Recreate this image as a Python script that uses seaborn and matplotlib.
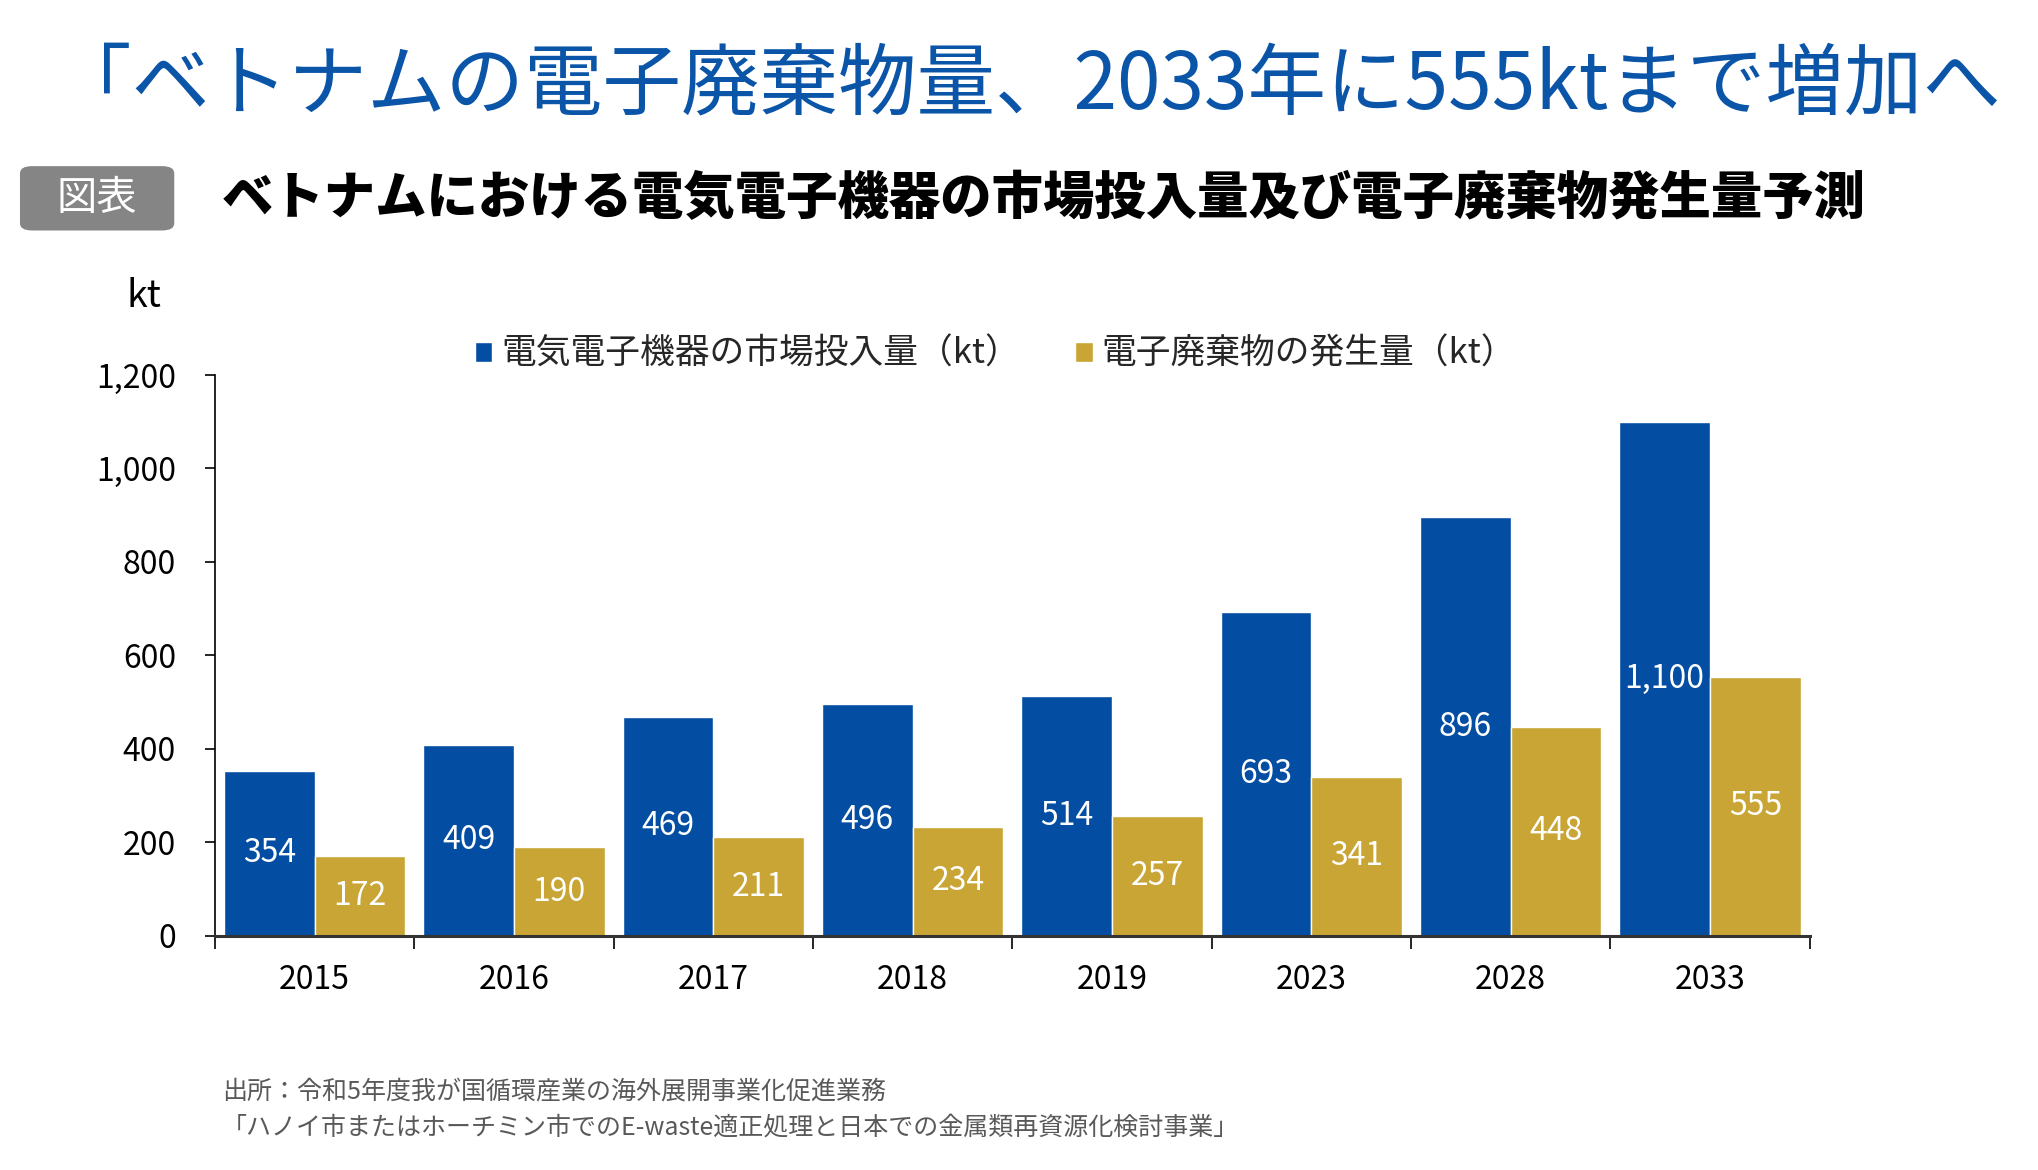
import pandas as pd
import seaborn as sns
import matplotlib.pyplot as plt
from matplotlib.patches import FancyBboxPatch, Patch
from matplotlib.ticker import FuncFormatter, FixedLocator

# data
years = ['2015', '2016', '2017', '2018', '2019', '2023', '2028', '2033']
market_input = [354, 409, 469, 496, 514, 693, 896, 1100]
ewaste = [172, 190, 211, 234, 257, 341, 448, 555]
series_names = ['電気電子機器の市場投入量（kt）', '電子廃棄物の発生量（kt）']
y_ticks = [0, 200, 400, 600, 800, 1000, 1200]

title = '「ベトナムの電子廃棄物量、2033年に555ktまで増加へ'
subtitle = 'ベトナムにおける電気電子機器の市場投入量及び電子廃棄物発生量予測'
source_lines = ['出所：令和5年度我が国循環産業の海外展開事業化促進業務',
                '「ハノイ市またはホーチミン市でのE-waste適正処理と日本での金属類再資源化検討事業」']

blue = '#034EA2'
gold = '#C9A535'

sns.set_theme(style='white')
plt.rcParams['font.family'] = ['Noto Sans CJK JP', 'DejaVu Sans']

df = pd.DataFrame({
    'year': years * 2,
    'value': market_input + ewaste,
    'series': [series_names[0]] * len(years) + [series_names[1]] * len(years),
})

fig = plt.figure(figsize=(20.38, 11.70), dpi=100)
ax = fig.add_axes([0.1055, 0.2000, 0.7825, 0.4795])

sns.barplot(data=df, x='year', y='value', hue='series', palette=[blue, gold],
            width=0.91, edgecolor='white', linewidth=1, saturation=1,
            legend=False, ax=ax)

for cont in ax.containers:
    labels = [f'{int(b.get_height()):,}' for b in cont]
    ax.bar_label(cont, labels=labels, label_type='center', color='white', fontsize=23)

ax.set_ylim(0, 1200)
ax.set_xlim(-0.5, len(years) - 0.5)
ax.yaxis.set_major_locator(FixedLocator(y_ticks))
ax.yaxis.set_major_formatter(FuncFormatter(lambda v, p: f'{int(v):,}'))
ax.set_xlabel('')
ax.set_ylabel('')
for s in ['top', 'right']:
    ax.spines[s].set_visible(False)
ax.spines['left'].set_color('black')
ax.spines['left'].set_linewidth(1.2)
ax.spines['bottom'].set_color('#333333')
ax.spines['bottom'].set_linewidth(2.2)
ax.tick_params(axis='y', which='major', left=True, length=7, width=1.2,
               color='black', labelsize=23, labelcolor='black', pad=21)
ax.set_xticks([i - 0.5 for i in range(len(years) + 1)], minor=True)
ax.tick_params(axis='x', which='minor', bottom=True, length=9.5, width=1.2, color='black')
ax.tick_params(axis='x', which='major', bottom=False, length=0, labelsize=23,
               labelcolor='black', pad=20)

# legend
handles = [Patch(facecolor=blue), Patch(facecolor=gold)]
fig.legend(handles, series_names, loc='center', bbox_to_anchor=(0.4885, 0.697), ncol=2,
           frameon=False, fontsize=25, handlelength=0.5, handleheight=0.5,
           handletextpad=0.25, columnspacing=1.6)

# header texts
fig.text(0.026, 0.926, title, color='#0B55A8', fontsize=56.5, va='center', ha='left')
box = FancyBboxPatch((0.0098 + 0.006, 0.801 + 0.008), 0.0757 - 0.012, 0.059 - 0.016,
                     boxstyle='round,pad=0.006', transform=fig.transFigure,
                     facecolor='#858585', edgecolor='none')
fig.patches.append(box)
fig.text(0.0476, 0.830, '図表', color='white', fontsize=29, va='center', ha='center')
fig.text(0.109, 0.830, subtitle, color='black', fontsize=37, fontweight='heavy',
         va='center', ha='left')
fig.text(0.0705, 0.747, 'kt', color='black', fontsize=27, va='center', ha='center')

fig.text(0.109, 0.067, source_lines[0], color='#595959', fontsize=18, va='center')
fig.text(0.109, 0.036, source_lines[1], color='#595959', fontsize=18, va='center')

fig.savefig('out.png', dpi=100)
